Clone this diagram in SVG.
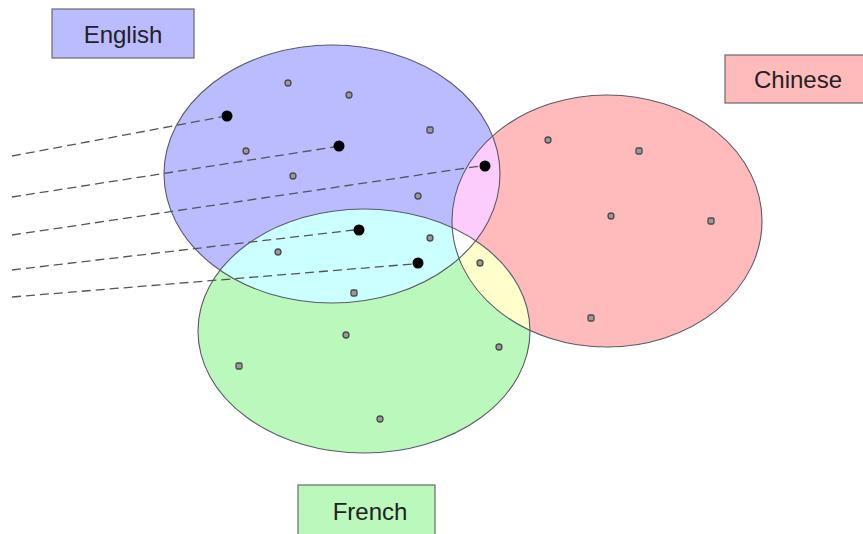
<svg xmlns="http://www.w3.org/2000/svg" width="863" height="534" viewBox="0 0 863 534">
  <style>
    .set { stroke: #5a5a6a; stroke-width: 1.1; fill: none; }
    .box { stroke: #6a6a6a; stroke-width: 1.2; }
    .lbl { font-family: "Liberation Sans", Arial, sans-serif; font-size: 24px; fill: #222; text-anchor: middle; }
    .pt { fill: #9a9a9a; stroke: #4a4a4a; stroke-width: 1.3; }
    .hit { fill: #000; }
    .link { stroke: #555; stroke-width: 1.3; stroke-dasharray: 9 5; fill: none; }
  </style>
  <defs>
    <ellipse id="eEn" cx="332" cy="174" rx="168" ry="129"/>
    <ellipse id="eZh" cx="607" cy="221" rx="155" ry="126"/>
    <ellipse id="eFr" cx="364" cy="331" rx="166" ry="122"/>
    <clipPath id="cEn"><use href="#eEn"/></clipPath>
    <clipPath id="cZh"><use href="#eZh"/></clipPath>
    <clipPath id="cEnZh" clip-path="url(#cEn)"><use href="#eZh"/></clipPath>
  </defs>

  <!-- region fills -->
  <g id="fills">
    <use href="#eEn" fill="#bbbbff"/>
    <use href="#eZh" fill="#ffbbbb"/>
    <use href="#eFr" fill="#bbf8bb"/>
    <use href="#eZh" fill="#fcccfc" clip-path="url(#cEn)"/>
    <use href="#eFr" fill="#ccffff" clip-path="url(#cEn)"/>
    <use href="#eFr" fill="#ffffcc" clip-path="url(#cZh)"/>
    <use href="#eFr" fill="#ffffff" clip-path="url(#cEnZh)"/>
  </g>

  <g id="english">
    <use href="#eEn" class="set"/>
    <rect class="box" x="52" y="9" width="142" height="49" fill="#bbbbff"/>
    <text class="lbl" x="123" y="43">English</text>
  </g>
  <g id="chinese">
    <use href="#eZh" class="set"/>
    <rect class="box" x="725" y="55" width="145" height="48" fill="#ffbbbb"/>
    <text class="lbl" x="798" y="88">Chinese</text>
  </g>
  <g id="french">
    <use href="#eFr" class="set"/>
    <rect class="box" x="298" y="485" width="137" height="60" fill="#bbf8bb"/>
    <text class="lbl" x="370" y="520">French</text>
  </g>

  <!-- dashed links from the left edge to the marked points -->
  <g id="connectors">
    <line class="link" x1="12" y1="156" x2="221" y2="117"/>
    <line class="link" x1="12" y1="197" x2="334" y2="147"/>
    <line class="link" x1="12" y1="235" x2="480" y2="166"/>
    <line class="link" x1="12" y1="270" x2="354" y2="230"/>
    <line class="link" x1="12" y1="297" x2="413" y2="264"/>
  </g>

  <g id="points">
    <circle class="pt" cx="288" cy="83" r="3"/>
    <circle class="pt" cx="349" cy="95" r="3"/>
    <rect class="pt" x="427" y="127" width="6" height="6" rx="1.5"/>
    <circle class="pt" cx="246" cy="151" r="3"/>
    <circle class="pt" cx="293" cy="176" r="3"/>
    <circle class="pt" cx="418" cy="196" r="3"/>
    <circle class="pt" cx="278" cy="252" r="3"/>
    <circle class="pt" cx="430" cy="238" r="3"/>
    <rect class="pt" x="351" y="290" width="6" height="6" rx="1.5"/>
    <circle class="pt" cx="548" cy="140" r="3"/>
    <rect class="pt" x="636" y="148" width="6" height="6" rx="1.5"/>
    <circle class="pt" cx="611" cy="216" r="3"/>
    <rect class="pt" x="708" y="218" width="6" height="6" rx="1.5"/>
    <rect class="pt" x="588" y="315" width="6" height="6" rx="1.5"/>
    <circle class="pt" cx="480" cy="263" r="3"/>
    <circle class="pt" cx="346" cy="335" r="3"/>
    <rect class="pt" x="236" y="363" width="6" height="6" rx="1.5"/>
    <circle class="pt" cx="499" cy="347" r="3"/>
    <circle class="pt" cx="380" cy="419" r="3"/>
  </g>
  <g id="marked">
    <circle class="hit" cx="227" cy="116" r="5.5"/>
    <circle class="hit" cx="339" cy="146" r="5.5"/>
    <circle class="hit" cx="485" cy="166" r="5.5"/>
    <circle class="hit" cx="359" cy="230" r="5.5"/>
    <circle class="hit" cx="418" cy="263" r="5.5"/>
  </g>
</svg>
